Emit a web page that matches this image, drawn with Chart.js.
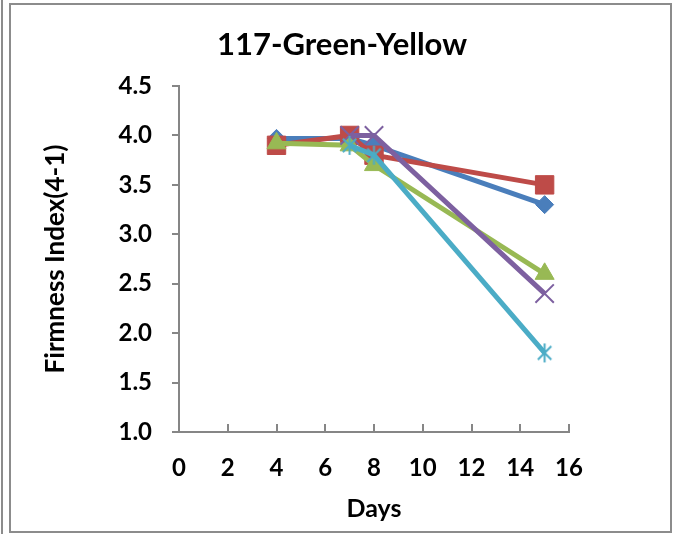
<!DOCTYPE html>
<html>
<head>
<meta charset="utf-8">
<script src="https://cdn.jsdelivr.net/npm/chart.js@4.4.1/dist/chart.umd.min.js"></script>
<style>
  html, body { margin: 0; padding: 0; background: #fff; }
  #wrap { width: 678px; height: 534px; }
</style>
</head>
<body>
<div id="wrap"><canvas id="chart" width="678" height="534"></canvas></div>
<script>
// storage days and firmness readings per sample
const days = [4, 7, 8, 15];
const daysLate = [7, 8, 15];
const firmnessBlue = [3.97, 3.97, 3.9, 3.3];
const firmnessRed = [3.9, 4.0, 3.8, 3.5];
const firmnessGreen = [3.92, 3.9, 3.7, 2.6];
const firmnessPurple = [4.0, 4.0, 2.4];
const firmnessCyan = [3.9, 3.8, 1.8];
const xTicks = [0, 2, 4, 6, 8, 10, 12, 14, 16];
const yTicks = [1.0, 1.5, 2.0, 2.5, 3.0, 3.5, 4.0, 4.5];
const chartTitle = "117-Green-Yellow";

const FONT = "Lato, 'Open Sans', sans-serif";
const AXIS_GRAY = "#868686";
const LEFT_PAD = 40;

const pairs = (xs, ys) => xs.map((x, i) => ({ x, y: ys[i] }));

// Excel-style asterisk marker: an X with a vertical bar
const makeStar = (color, size) => {
  const c = document.createElement("canvas");
  c.width = size;
  c.height = size;
  const g = c.getContext("2d");
  const m = size / 2;
  const r = size / 2 - 1;
  const d = r * Math.SQRT1_2;
  g.strokeStyle = color;
  g.lineWidth = 2;
  g.beginPath();
  g.moveTo(m - d, m - d); g.lineTo(m + d, m + d);
  g.moveTo(m + d, m - d); g.lineTo(m - d, m + d);
  g.moveTo(m, m - r); g.lineTo(m, m + r);
  g.stroke();
  return c;
};

// outer chart border, a sliver of the neighbouring frame, and the title
const frame = {
  id: "frame",
  beforeDraw(chart) {
    const ctx = chart.ctx;
    ctx.save();
    ctx.fillStyle = "#fff";
    ctx.fillRect(0, 0, chart.width, chart.height);
    ctx.strokeStyle = "#8c8c8c";
    ctx.lineWidth = 2;
    ctx.strokeRect(10, 4, 661, 528);
    ctx.beginPath();
    ctx.moveTo(2, 0);
    ctx.lineTo(2, chart.height);
    ctx.stroke();
    ctx.fillStyle = "#000";
    ctx.font = `bold 31px ${FONT}`;
    ctx.textAlign = "center";
    ctx.textBaseline = "middle";
    ctx.fillText(chartTitle, 342, 45);
    ctx.restore();
  },
};

// x ticks point up into the plot
const innerTicks = {
  id: "innerTicks",
  afterDatasetsDraw(chart) {
    const sx = chart.scales.x;
    const ctx = chart.ctx;
    ctx.save();
    ctx.strokeStyle = AXIS_GRAY;
    ctx.lineWidth = 2;
    ctx.beginPath();
    sx.ticks.forEach((t) => {
      const px = Math.round(sx.getPixelForValue(t.value));
      ctx.moveTo(px, sx.top);
      ctx.lineTo(px, sx.top - 8);
    });
    ctx.stroke();
    ctx.restore();
  },
};

const line = (data, color, extra, order) => Object.assign({
  data,
  borderColor: color,
  backgroundColor: color,
  pointBorderColor: color,
  pointBackgroundColor: color,
  borderWidth: 5,
  pointBorderWidth: 1,
  tension: 0,
  showLine: true,
  order,
}, extra);

new Chart(document.getElementById("chart"), {
  type: "scatter",
  data: {
    datasets: [
      line(pairs(days, firmnessBlue), "#4a7ebb", { pointStyle: "rectRot", pointRadius: 9 }, 5),
      line(pairs(days, firmnessRed), "#be4b48", { pointStyle: "rect", pointRadius: 13 }, 4),
      line(pairs(days, firmnessGreen), "#98b954", { pointStyle: "triangle", pointRadius: 11 }, 3),
      line(pairs(daysLate, firmnessPurple), "#7d60a0", { pointStyle: "crossRot", pointRadius: 13, pointBorderWidth: 2 }, 2),
      line(pairs(daysLate, firmnessCyan), "#4bacc6", { pointStyle: makeStar("#4bacc6", 21), pointRadius: 10 }, 1),
    ],
  },
  options: {
    responsive: false,
    animation: false,
    devicePixelRatio: 1,
    layout: { padding: { top: 86, left: LEFT_PAD, right: 109, bottom: 10 } },
    plugins: {
      legend: { display: false },
      tooltip: { enabled: false },
      title: { display: false },
    },
    scales: {
      x: {
        type: "linear",
        min: 0,
        max: 16,
        afterBuildTicks: (s) => { s.ticks = xTicks.map((v) => ({ value: v })); },
        afterFit: (s) => { s.height = 92; },
        border: { color: AXIS_GRAY, width: 2 },
        grid: { drawOnChartArea: false, drawTicks: false },
        ticks: {
          color: "#000",
          padding: 22,
          font: { family: FONT, size: 24, weight: "bold" },
        },
        title: {
          display: true,
          text: "Days",
          color: "#000",
          font: { family: FONT, size: 25, weight: "bold" },
          padding: { top: 12, bottom: 0 },
        },
      },
      y: {
        min: 1,
        max: 4.5,
        afterBuildTicks: (s) => { s.ticks = yTicks.map((v) => ({ value: v })); },
        afterFit: (s) => { s.width = 179 - LEFT_PAD; },
        border: { color: AXIS_GRAY, width: 2 },
        grid: { drawOnChartArea: false, tickLength: 7, color: AXIS_GRAY, lineWidth: 2 },
        ticks: {
          color: "#000",
          padding: 20,
          font: { family: FONT, size: 24, weight: "bold" },
          callback: (v) => Number(v).toFixed(1),
        },
        title: {
          display: true,
          text: "Firmness Index(4-1)",
          color: "#000",
          font: { family: FONT, size: 26, weight: "bold" },
          padding: { top: 0, bottom: 14 },
        },
      },
    },
  },
  plugins: [frame, innerTicks],
});
</script>
</body>
</html>
